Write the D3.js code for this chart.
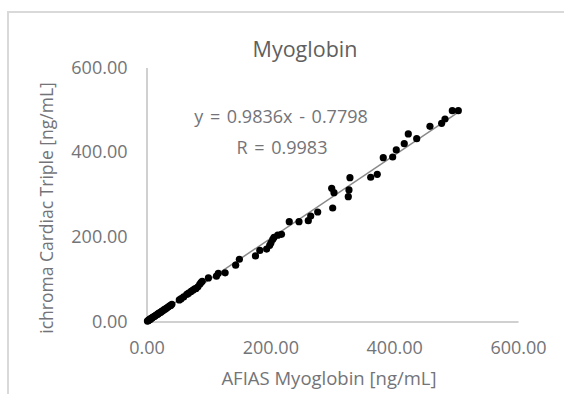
<!DOCTYPE html>
<html>
<head>
<meta charset="utf-8">
<script src="https://cdn.jsdelivr.net/npm/d3@7"></script>
<style>
  html, body { margin: 0; padding: 0; background: #fff; }
  svg { display: block; }
</style>
</head>
<body>
<svg id="chart" width="564" height="394"></svg>
<script>
// AFIAS (x) vs ichroma Cardiac Triple (y), ng/mL
const lowRange = [
  [1.5,1.0],[2.5,2.0],[3.5,3.0],[4.5,4.2],[5.5,4.8],[6.5,6.0],[7.5,7.2],[8.5,8.0],
  [9.5,9.5],[11,10.5],[12,11.8],[13.5,12.8],[15,14.5],[16.5,16.0],[18,17.2],[19.5,19.0],
  [21,20.5],[23,22.0],[25,24.5],[27,26.0],[29,28.5],[31,30.0],[33,32.5],[35,34.0],
  [37,36.5],[39,38.0],[41,40.5]
];
const midRange = [
  [53,51],[56,54],[60,58],[65,64],[68,67],[72,71],[75,74],[78,77],[80,78],[83,82],
  [86,88],[88,92],[90,95],[100,103],[113,107],[116,114],[127,115],[144,133],[150,147],
  [176,155],[183,168],[194,171],[199,180],[201,186],[204,194],[206,199],[212,204],[218,206]
];
const highRange = [
  [230.6,235.8],[246.3,235.8],[261.3,238.1],[265.2,249.2],[276.5,258.7],[300.7,268.1],
  [299.1,314.7],[302.8,304.3],[325.9,294.8],[327.0,310.7],[328.6,339.7],[362.1,340.7],
  [372.7,347.7],[382.4,387.0],[397.6,388.6],[403.4,405.2],[416.3,420.0],[422.8,443.0],
  [436.4,431.8],[457.8,461.1],[476.7,468.2],[482.1,478.4],[493.9,498.0],[503.6,498.0]
];
const xTicks = [0, 200, 400, 600];
const yTicks = [0, 200, 400, 600];
const slope = 0.9836, intercept = -0.7798;
const trendX = [0, 505];

const points = lowRange.concat(midRange, highRange);

const svg = d3.select("#chart");
const font = "'Open Sans', 'Noto Sans', sans-serif";
const textColor = "#737478";

// chart area border
svg.append("rect")
  .attr("x", 8).attr("y", 12)
  .attr("width", 600).attr("height", 420)
  .attr("fill", "none")
  .attr("stroke", "#d9d9d9")
  .attr("stroke-width", 2);

const x = d3.scaleLinear().domain([0, 600]).range([146.5, 518]);
const y = d3.scaleLinear().domain([0, 600]).range([321.5, 67.5]);

// X axis
const gx = svg.append("g")
  .attr("transform", `translate(0,${y(0)})`)
  .call(d3.axisBottom(x).tickValues(xTicks).tickFormat(d3.format(".2f")).tickSize(0).tickPadding(20));
gx.select(".domain").attr("stroke", "#d0d0d0").attr("stroke-width", 2);
gx.selectAll("text").attr("fill", textColor).style("font-family", font).style("font-size", "18px");

// Y axis
const gy = svg.append("g")
  .attr("transform", `translate(${x(0)},0)`)
  .call(d3.axisLeft(y).tickValues(yTicks).tickFormat(d3.format(".2f")).tickSize(0).tickPadding(19));
gy.select(".domain").attr("stroke", "#d0d0d0").attr("stroke-width", 2);
gy.selectAll("text").attr("fill", textColor).style("font-family", font).style("font-size", "18px");

// trendline
svg.append("line")
  .attr("x1", x(trendX[0])).attr("y1", y(slope * trendX[0] + intercept))
  .attr("x2", x(trendX[1])).attr("y2", y(slope * trendX[1] + intercept))
  .attr("stroke", "#8a8a8a")
  .attr("stroke-width", 1.5);

// points
svg.append("g")
  .selectAll("circle")
  .data(points)
  .join("circle")
  .attr("cx", d => x(d[0]))
  .attr("cy", d => y(d[1]))
  .attr("r", 3.6)
  .attr("fill", "#000");

// title
svg.append("text")
  .attr("x", 305).attr("y", 57)
  .attr("text-anchor", "middle")
  .style("font-family", font).style("font-size", "21.5px")
  .attr("fill", "#5f5f5f")
  .text("Myoglobin");

// equation
svg.append("text")
  .attr("x", 281).attr("y", 123)
  .attr("text-anchor", "middle")
  .style("font-family", font).style("font-size", "18px")
  .style("word-spacing", "2px")
  .attr("fill", textColor)
  .text("y = 0.9836x - 0.7798");
svg.append("text")
  .attr("x", 282).attr("y", 154)
  .attr("text-anchor", "middle")
  .style("font-family", font).style("font-size", "18px")
  .style("word-spacing", "2px")
  .attr("fill", textColor)
  .text("R = 0.9983");

// axis titles
svg.append("text")
  .attr("x", 329).attr("y", 385)
  .attr("text-anchor", "middle")
  .style("font-family", font).style("font-size", "18.5px")
  .attr("fill", textColor)
  .text("AFIAS Myoglobin [ng/mL]");

svg.append("text")
  .attr("transform", "translate(53,208) rotate(-90)")
  .attr("text-anchor", "middle")
  .style("font-family", font).style("font-size", "17.5px")
  .attr("fill", textColor)
  .text("ichroma Cardiac Triple [ng/mL]");
</script>
</body>
</html>
